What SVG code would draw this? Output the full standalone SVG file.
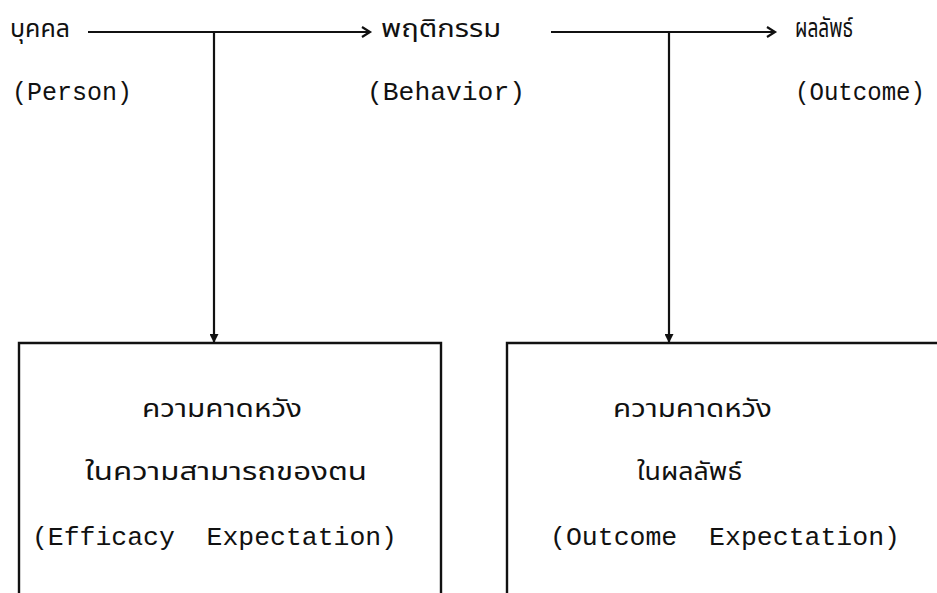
<svg xmlns="http://www.w3.org/2000/svg" width="937" height="593" viewBox="0 0 937 593">
<defs>
<style>
.ln{stroke:#111;stroke-width:2.2;fill:none}
.box{stroke:#111;stroke-width:2.4;fill:none}
.th{font-family:"Noto Sans Thai","Noto Sans","DejaVu Sans",sans-serif;font-size:24px;fill:#111}
.en{font-family:"Liberation Mono","DejaVu Sans Mono",monospace;font-size:25px;fill:#111}
</style>
<marker id="tri" viewBox="0 0 10 10" refX="10" refY="5" markerWidth="9" markerHeight="9" markerUnits="userSpaceOnUse" orient="auto">
<path d="M0,0 L10,5 L0,10 z" fill="#111"/>
</marker>
</defs>
<rect width="937" height="593" fill="#fff"/>
<g id="person">
<text class="th" x="10" y="37" textLength="60" lengthAdjust="spacingAndGlyphs">บุคคล</text>
<text class="en" x="12" y="100" textLength="120" lengthAdjust="spacingAndGlyphs">(Person)</text>
</g>
<g id="behavior">
<text class="th" x="381" y="37" textLength="120" lengthAdjust="spacingAndGlyphs">พฤติกรรม</text>
<text class="en" x="367" y="100" textLength="158" lengthAdjust="spacingAndGlyphs">(Behavior)</text>
</g>
<g id="outcome">
<text class="th" x="795" y="37" style="font-size:27px" textLength="58" lengthAdjust="spacingAndGlyphs">ผลลัพธ์</text>
<text class="en" x="795" y="100" textLength="130" lengthAdjust="spacingAndGlyphs">(Outcome)</text>
</g>
<g id="efficacy-expectation">
<path class="box" d="M19,600 V343 H441 V600"/>
<text class="th" x="142" y="417" textLength="160" lengthAdjust="spacingAndGlyphs">ความคาดหวัง</text>
<text class="th" x="85" y="480" textLength="282" lengthAdjust="spacingAndGlyphs">ในความสามารถของตน</text>
<text class="en" x="32" y="545" textLength="365" lengthAdjust="spacingAndGlyphs" xml:space="preserve">(Efficacy  Expectation)</text>
</g>
<g id="outcome-expectation">
<path class="box" d="M507,600 V343 H940"/>
<text class="th" x="613" y="417" textLength="159" lengthAdjust="spacingAndGlyphs">ความคาดหวัง</text>
<text class="th" x="637" y="480" textLength="105" lengthAdjust="spacingAndGlyphs">ในผลลัพธ์</text>
<text class="en" x="550" y="545" textLength="350" lengthAdjust="spacingAndGlyphs" xml:space="preserve">(Outcome  Expectation)</text>
</g>
<g id="connectors">
<path class="ln" d="M88,32 H368"/>
<path class="ln" d="M362,27 L370,32 L362,37"/>
<path class="ln" d="M551,32 H773"/>
<path class="ln" d="M767,27 L775,32 L767,37"/>
<path class="ln" d="M214,32 V343" marker-end="url(#tri)"/>
<path class="ln" d="M669,32 V343" marker-end="url(#tri)"/>
</g>
</svg>
